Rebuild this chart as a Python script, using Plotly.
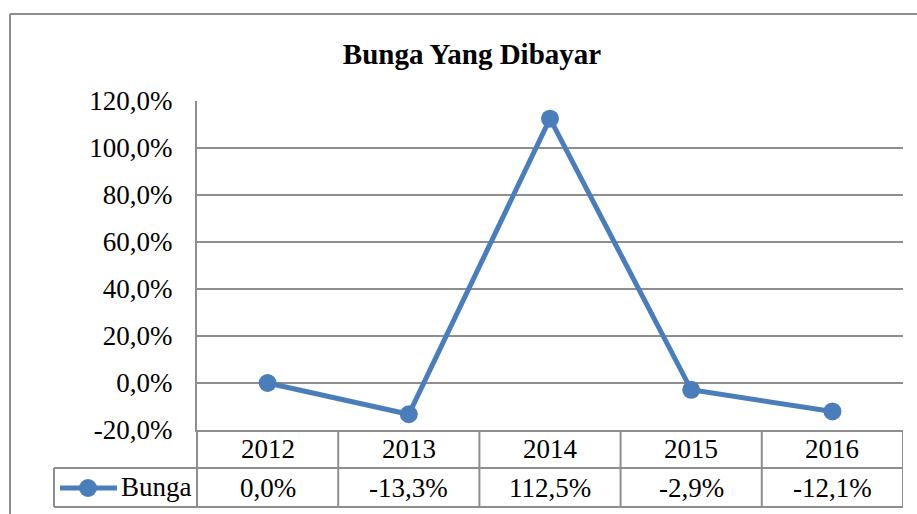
import plotly.graph_objects as go

years = ["2012", "2013", "2014", "2015", "2016"]
bunga = [0.0, -13.3, 112.5, -2.9, -12.1]
value_labels = ["0,0%", "-13,3%", "112,5%", "-2,9%", "-12,1%"]
y_ticks = [-20, 0, 20, 40, 60, 80, 100, 120]
y_tick_labels = ["-20,0%", "0,0%", "20,0%", "40,0%", "60,0%", "80,0%", "100,0%", "120,0%"]
series_name = "Bunga"
title_text = "Bunga Yang Dibayar"

W, H = 917, 514
PL, PR, PT, PB = 197, 903, 101, 430
pw, ph = PR - PL, PB - PT

def px(x):
    return (x - PL) / pw

def py(y):
    return (PB - y) / ph

BLUE = "#4A7EBB"
GRID = "#8E8E8E"
FONT = "Liberation Serif"
FS = 27

fig = go.Figure()
fig.add_trace(go.Scatter(
    x=years, y=bunga, mode="lines+markers", name=series_name,
    line=dict(color=BLUE, width=5),
    marker=dict(color=BLUE, size=18),
    cliponaxis=False, showlegend=False,
))

shapes = []
lw = 2
# outer chart border (left and top, the rest is cropped)
shapes.append(dict(type="line", xref="paper", yref="paper", x0=px(10), x1=px(1000), y0=py(14), y1=py(14),
                   line=dict(color=GRID, width=lw)))
shapes.append(dict(type="line", xref="paper", yref="paper", x0=px(10), x1=px(10), y0=py(14), y1=py(600),
                   line=dict(color=GRID, width=lw)))
# table horizontal lines
for yy, x0 in [(468, 54), (507, 54)]:
    shapes.append(dict(type="line", xref="paper", yref="paper", x0=px(x0), x1=px(PR), y0=py(yy), y1=py(yy),
                       line=dict(color=GRID, width=lw)))
# table vertical lines
shapes.append(dict(type="line", xref="paper", yref="paper", x0=px(54), x1=px(54), y0=py(468), y1=py(507),
                   line=dict(color=GRID, width=lw)))
shapes.append(dict(type="line", xref="paper", yref="paper", x0=0, x1=0, y0=0, y1=py(507),
                   line=dict(color=GRID, width=lw)))
for i in range(len(years)):
    xb = i + 0.5
    shapes.append(dict(type="line", xref="x", yref="paper", x0=xb, x1=xb, y0=0, y1=py(507),
                       line=dict(color=GRID, width=lw)))
# legend glyph in table
shapes.append(dict(type="line", xref="paper", yref="paper", x0=px(60), x1=px(117), y0=py(488), y1=py(488),
                   line=dict(color=BLUE, width=5)))
shapes.append(dict(type="circle", xref="paper", yref="paper", x0=px(88 - 9), x1=px(88 + 9),
                   y0=py(488 - 9), y1=py(488 + 9), fillcolor=BLUE, line=dict(color=BLUE, width=0)))

annotations = []
for i, (yr, lab) in enumerate(zip(years, value_labels)):
    annotations.append(dict(x=i, xref="x", y=py(449), yref="paper", text=yr, showarrow=False,
                            font=dict(family=FONT, size=FS, color="black"), xanchor="center", yanchor="middle"))
    annotations.append(dict(x=i, xref="x", y=py(488), yref="paper", text=lab, showarrow=False,
                            font=dict(family=FONT, size=FS, color="black"), xanchor="center", yanchor="middle"))
annotations.append(dict(x=px(119), xref="paper", y=py(487), yref="paper", text=series_name, showarrow=False,
                        font=dict(family=FONT, size=FS, color="black"), xanchor="left", yanchor="middle"))

fig.update_layout(
    width=W, height=H,
    margin=dict(l=PL, r=W - PR, t=PT, b=H - PB, pad=0),
    paper_bgcolor="white", plot_bgcolor="white",
    title=dict(text="<b>" + title_text + "</b>", x=472 / W, xanchor="center", y=1 - 54 / H, yanchor="middle",
               font=dict(family=FONT, size=29, color="black")),
    font=dict(family=FONT, size=FS, color="black"),
    xaxis=dict(type="category", showticklabels=False, showgrid=False, ticks="", showline=True, linecolor=GRID,
               linewidth=lw, range=[-0.5, len(years) - 0.5], fixedrange=True),
    yaxis=dict(range=[-20, 120], tickvals=y_ticks, ticktext=y_tick_labels, showgrid=True, gridcolor=GRID,
               gridwidth=lw, zeroline=False, showline=True, linecolor=GRID, linewidth=lw, ticks="",
               ticklabelstandoff=17, tickfont=dict(family=FONT, size=FS, color="black")),
    shapes=shapes, annotations=annotations, showlegend=False,
)

fig.write_html("out.html", config={"displayModeBar": False},
               post_script="document.body.style.margin='0';")
